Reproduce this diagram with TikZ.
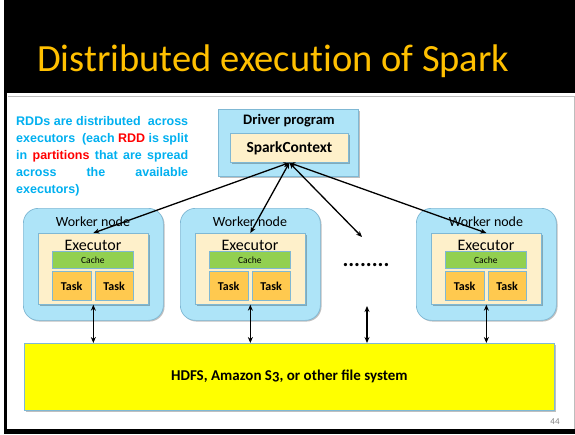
\documentclass[tikz,border=0pt]{standalone}
\usepackage{fontspec}
\setmainfont{Carlito}
\newfontfamily\arialfont{Liberation Sans}
\usetikzlibrary{arrows.meta,shadows}

\definecolor{titlegold}{HTML}{FFC000}
\definecolor{nodeblue}{HTML}{AEE4F8}
\definecolor{beige}{HTML}{FEF0CA}
\definecolor{cachegreen}{HTML}{92D050}
\definecolor{taskorange}{HTML}{FFC94F}
\definecolor{edgeblue}{HTML}{7FB8D4}
\definecolor{notecyan}{HTML}{00B0F0}
\definecolor{hdfsyellow}{HTML}{FFFF00}
\definecolor{framegray}{HTML}{BDBDBD}

\newcommand\workernode[2]{%
  \node[workerbox] (#1) at (#2,208) {};
  \node[wlabel] (#1-lbl) at ({#2+70},222) {Worker node};
  \node[execbox] (#1-ex) at ({#2+15},233) {};
  \node[exlabel] (#1-extxt) at ({#2+70},245) {Executor};
  \node[cachebox] (#1-cache) at ({#2+29},251) {Cache};
  \node[taskbox] (#1-t1) at ({#2+29},271) {Task};
  \node[taskbox] (#1-t2) at ({#2+71.5},271) {Task};
}

\begin{document}
\begin{tikzpicture}[x=1pt,y=-1pt,
  box/.style={draw=edgeblue, line width=0.7pt, inner sep=0pt, anchor=north west},
  softshadow/.style={drop shadow={shadow xshift=1.2pt, shadow yshift=-1.2pt, opacity=0.25, fill=black}},
  workerbox/.style={box, fill=nodeblue, minimum width=140pt, minimum height=112pt, rounded corners=15pt, softshadow},
  wlabel/.style={inner sep=0pt, font=\fontsize{14}{14}\selectfont},
  execbox/.style={box, fill=beige, minimum width=110pt, minimum height=71pt, softshadow},
  exlabel/.style={inner sep=0pt, font=\fontsize{16}{16}\selectfont},
  cachebox/.style={box, fill=cachegreen, minimum width=81pt, minimum height=17pt, font=\fontsize{9.5}{9.5}\selectfont},
  taskbox/.style={box, fill=taskorange, minimum width=38.5pt, minimum height=29pt, font=\bfseries\fontsize{12}{12}\selectfont},
  conn/.style={line width=1.3pt, {Stealth[length=6pt,width=5pt]}-{Stealth[length=6pt,width=5pt]}}
  ]
\useasboundingbox (0,0) rectangle (575,434);
% slide background
\fill[white] (0,0) rectangle (575,434);
\fill[black] (4,0) rectangle (575,93);
\fill[black] (4,93) rectangle (7,434);
\fill[black] (4,429) rectangle (575,434);
\draw[framegray, line width=1pt] (8,96.5) -- (574,96.5) -- (574,429);

% title
\node[anchor=base west, inner sep=0pt, text=titlegold, font=\fontsize{38.5}{40}\selectfont\addfontfeatures{Ligatures=NoCommon}] (title) at (37,71) {Distributed execution of Spark};

% note text
\node[anchor=north west, inner sep=0pt, text width=172pt, align=justify, text=notecyan,
      font=\arialfont\bfseries\fontsize{12.5}{17}\selectfont] (note) at (16,116.5)
  {\spaceskip=0pt\xspaceskip=0pt
   \makebox[172pt][s]{RDDs are distributed\ \ across}\\
   \makebox[172pt][s]{executors\ \ (each \textcolor{red}{RDD} is split}\\
   \makebox[172pt][s]{in \textcolor{red}{partitions} that are spread}\\
   \makebox[172pt][s]{across the available}\\
   executors)};

% driver
\node[box, fill=nodeblue, minimum width=140pt, minimum height=67pt, softshadow] (drv) at (218,109) {};
\node[inner sep=0pt, font=\bfseries\fontsize{14.5}{14.5}\selectfont] (drvlbl) at (289,121) {Driver program};
\node[box, fill=beige, minimum width=118pt, minimum height=29pt, softshadow, font=\bfseries\fontsize{15.4}{15.4}\selectfont] (sc) at (230,133) {SparkContext};

% workers
\workernode{w1}{23}
\workernode{w2}{180}
\workernode{w4}{416}

% dots
\node[inner sep=0pt, font=\bfseries\fontsize{22}{22}\selectfont] (dots) at (366,265) {........};
\coordinate (dotstop) at (362,237);
\coordinate (dotsbot) at (367,306);

% storage
\node[box, fill=hdfsyellow, minimum width=530pt, minimum height=67pt, softshadow, font=\bfseries\fontsize{15}{15}\selectfont] (hdfs) at (24,343) {HDFS, Amazon S{\addfontfeatures{Numbers=OldStyle}3}, or other file system};

% page number
\node[inner sep=0pt, text=gray, font=\fontsize{9}{9}\selectfont] (pg) at (555,422) {44};

% connectors driver <-> workers
\draw[conn] (sc.south) -- (w1-ex.north);
\draw[conn] (sc.south) -- (w2-ex.north);
\draw[conn] (sc.south) -- (dotstop);
\draw[conn] (sc.south) -- (w4-ex.north);

% connectors workers <-> storage
\draw[conn] (w1-ex.south) -- (w1-ex.south |- hdfs.north);
\draw[conn] (w2-ex.south) -- (w2-ex.south |- hdfs.north);
\draw[conn] (dotsbot) -- (dotsbot |- hdfs.north);
\draw[conn] (w4-ex.south) -- (w4-ex.south |- hdfs.north);
\end{tikzpicture}
\end{document}
